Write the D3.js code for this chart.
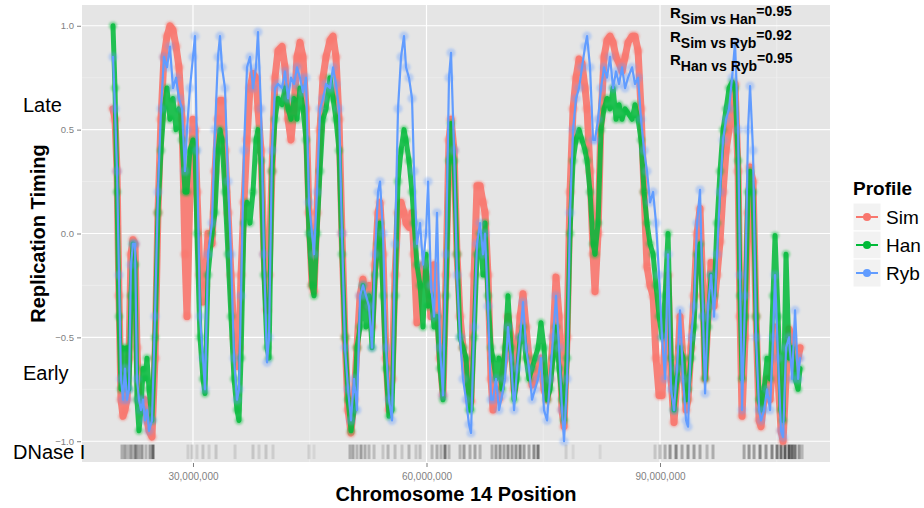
<!DOCTYPE html>
<html>
<head>
<meta charset="utf-8">
<script src="https://d3js.org/d3.v7.min.js"></script>
<style>
  body { margin: 0; background: #ffffff; }
  text { font-family: "Liberation Sans", Arial, Helvetica, sans-serif; }
</style>
</head>
<body>
<div id="canvas"></div>
<script>

// chromosome 14 positions, in Mb
var positions = [
  19.72, 19.98, 20.24, 20.49, 20.75, 21.01, 21.26, 21.52, 21.78, 22.03,
  22.29, 22.55, 22.80, 23.06, 23.32, 23.58, 23.83, 24.09, 24.35, 24.73,
  25.12, 25.50, 25.89, 26.27, 26.66, 27.04, 27.43, 27.82, 28.20, 28.59,
  28.97, 29.23, 29.61, 30.00, 30.26, 30.51, 30.90, 31.28, 31.54, 31.93,
  32.44, 32.83, 33.21, 33.47, 33.73, 34.11, 34.50, 34.88, 35.27, 35.65,
  35.91, 36.17, 36.55, 36.94, 37.32, 37.71, 38.09, 38.35, 38.74, 39.12,
  39.51, 39.77, 40.15, 40.54, 40.92, 41.44, 41.82, 42.21, 42.59, 42.98,
  43.36, 43.75, 44.13, 44.52, 44.90, 45.29, 45.55, 45.93, 46.32, 46.70,
  47.09, 47.60, 47.99, 48.37, 48.76, 49.14, 49.53, 49.92, 50.30, 50.69,
  51.07, 51.46, 51.84, 52.23, 52.61, 53.00, 53.39, 53.77, 54.03, 54.41,
  54.80, 55.18, 55.57, 55.96, 56.34, 56.73, 57.11, 57.37, 57.75, 58.14,
  58.40, 58.78, 59.17, 59.55, 59.94, 60.20, 60.58, 60.97, 61.35, 61.74,
  62.12, 62.51, 62.89, 63.15, 63.54, 63.92, 64.31, 64.69, 65.08, 65.46,
  65.72, 66.11, 66.49, 66.88, 67.26, 67.52, 67.90, 68.29, 68.55, 68.93,
  69.32, 69.70, 70.09, 70.47, 70.86, 71.25, 71.63, 72.02, 72.40, 72.79,
  73.17, 73.56, 73.94, 74.33, 74.71, 75.10, 75.49, 75.87, 76.26, 76.64,
  77.03, 77.41, 77.67, 78.06, 78.44, 78.83, 79.21, 79.60, 79.98, 80.37,
  80.63, 81.01, 81.40, 81.65, 82.04, 82.42, 82.81, 83.19, 83.58, 83.97,
  84.35, 84.74, 85.12, 85.51, 85.89, 86.41, 86.79, 87.18, 87.56, 87.95,
  88.33, 88.72, 89.11, 89.49, 89.88, 90.26, 90.65, 91.03, 91.42, 91.80,
  92.19, 92.57, 92.96, 93.35, 93.60, 93.99, 94.37, 94.76, 95.14, 95.53,
  95.79, 96.17, 96.56, 96.94, 97.33, 97.71, 98.10, 98.49, 98.87, 99.26,
  99.64, 100.03, 100.28, 100.54, 100.93, 101.31, 101.57, 101.95, 102.34, 102.73,
  102.98, 103.37, 103.75, 104.14, 104.52, 104.78, 105.17, 105.55, 105.81, 106.19,
  106.58, 106.97, 107.35, 107.74, 107.99
];

var simValues = [
  0.60, 0.55, 0.30, -0.30, -0.80, -0.88, -0.85, -0.80, -0.60, -0.10,
  -0.03, -0.05, -0.55, -0.80, -0.80, -0.85, -0.80, -0.90, -0.95, -0.98,
  -0.60, 0.10, 0.55, 0.85, 0.95, 1.00, 0.98, 0.90, 0.80, 0.55,
  -0.10, -0.40, 0.20, 0.55, 0.50, 0.20, -0.20, -0.33, -0.25, 0.00,
  -0.05, 0.30, 0.55, 0.64, 0.64, 0.40, 0.10, -0.20, -0.50, -0.64,
  -0.55, -0.20, 0.15, 0.45, 0.70, 0.77, 0.75, 0.60, 0.40, -0.10,
  -0.37, -0.20, 0.30, 0.75, 0.88, 0.90, 0.80, 0.55, 0.45, 0.60,
  0.85, 0.92, 0.85, 0.60, 0.10, -0.25, -0.28, 0.10, 0.50, 0.75,
  0.85, 0.93, 0.95, 0.85, 0.55, 0.00, -0.50, -0.85, -0.96, -0.80,
  -0.55, -0.30, -0.22, -0.35, -0.25, -0.45, -0.15, 0.10, 0.15, -0.10,
  -0.60, -0.85, -0.70, -0.20, 0.10, 0.15, 0.10, 0.05, 0.03, 0.10,
  -0.10, -0.43, -0.20, -0.15, -0.20, -0.25, -0.40, -0.15, -0.30, -0.60,
  -0.78, -0.20, 0.45, 0.55, 0.40, -0.10, -0.40, -0.55, -0.65, -0.80,
  -0.81, -0.20, 0.23, 0.23, 0.15, 0.10, -0.20, -0.70, -0.85, -0.75,
  -0.80, -0.70, -0.60, -0.40, -0.50, -0.75, -0.60, -0.40, -0.29, -0.45,
  -0.60, -0.73, -0.70, -0.65, -0.60, -0.75, -0.80, -0.70, -0.50, -0.21,
  -0.40, -0.85, -0.93, -0.50, 0.20, 0.60, 0.75, 0.84, 0.82, 0.70,
  0.60, 0.30, -0.10, -0.28, 0.00, 0.55, 0.85, 0.93, 0.95, 0.92,
  0.85, 0.82, 0.78, 0.85, 0.92, 0.95, 0.95, 0.88, 0.60, 0.20,
  -0.16, -0.25, -0.30, -0.60, -0.78, -0.78, -0.50, -0.20, -0.70, -0.91,
  -0.70, -0.40, -0.60, -0.85, -0.80, -0.55, -0.30, 0.00, 0.12, -0.30,
  -0.70, -0.40, -0.14, -0.35, -0.20, -0.04, 0.20, 0.40, 0.50, 0.60,
  0.72, 0.30, -0.40, -0.88, -0.50, 0.10, 0.32, 0.25, -0.40, -0.90,
  -0.93, -0.80, -0.70, -0.80, -0.60, -0.45, -0.70, -0.95, -1.00, -0.70,
  -0.46, -0.50, -0.65, -0.60, -0.55
];

var hanValues = [
  1.00, 0.70, 0.20, -0.40, -0.75, -0.55, -0.70, -0.55, -0.75, -0.30,
  -0.05, -0.15, -0.80, -0.95, -0.85, -0.65, -0.70, -0.60, -0.75, -0.90,
  -0.50, 0.10, 0.40, 0.60, 0.70, 0.55, 0.65, 0.50, 0.60, 0.45,
  0.20, 0.20, 0.40, 0.45, 0.40, 0.00, -0.50, -0.70, -0.77, -0.20,
  0.00, 0.10, 0.40, 0.50, 0.45, 0.20, -0.10, -0.40, -0.70, -0.85,
  -0.90, -0.60, 0.05, 0.15, 0.05, 0.20, 0.45, 0.50, 0.35, -0.20,
  -0.55, -0.60, 0.30, 0.55, 0.65, 0.62, 0.70, 0.60, 0.55, 0.65,
  0.55, 0.70, 0.60, 0.45, 0.00, -0.25, -0.30, 0.00, 0.30, 0.55,
  0.60, 0.75, 0.65, 0.55, 0.40, -0.10, -0.50, -0.80, -0.95, -0.85,
  -0.55, -0.45, -0.25, -0.45, -0.30, -0.55, -0.20, -0.05, 0.05, -0.30,
  -0.65, -0.88, -0.85, -0.30, 0.25, 0.40, 0.50, 0.45, 0.35, 0.20,
  0.05, -0.15, -0.25, -0.45, -0.10, -0.35, -0.30, -0.45, -0.40, -0.65,
  -0.80, -0.30, 0.35, 0.53, 0.35, -0.10, -0.50, -0.55, -0.60, -0.85,
  -0.85, -0.50, -0.10, 0.00, -0.20, 0.05, -0.30, -0.55, -0.60, -0.70,
  -0.60, -0.75, -0.55, -0.30, -0.55, -0.80, -0.70, -0.50, -0.45, -0.60,
  -0.70, -0.65, -0.60, -0.55, -0.43, -0.55, -0.80, -0.75, -0.60, -0.45,
  -0.65, -0.80, -0.90, -0.60, 0.00, 0.35, 0.45, 0.50, 0.45, 0.40,
  0.35, 0.20, -0.05, -0.10, 0.05, 0.50, 0.60, 0.65, 0.60, 0.70,
  0.55, 0.62, 0.55, 0.60, 0.58, 0.55, 0.62, 0.55, 0.45, 0.20,
  0.05, -0.05, -0.10, -0.25, -0.40, -0.50, -0.30, 0.00, -0.60, -0.85,
  -0.70, -0.55, -0.60, -0.80, -0.75, -0.60, -0.45, -0.10, -0.05, -0.40,
  -0.70, -0.45, -0.20, -0.30, 0.05, 0.30, 0.50, 0.60, 0.70, 0.73,
  0.70, 0.35, -0.30, -0.70, -0.40, 0.20, 0.30, 0.20, -0.40, -0.80,
  -0.85, -0.75, -0.60, -0.70, -0.30, -0.01, -0.40, -0.85, -0.90, -0.10,
  -0.60, -0.55, -0.70, -0.75, -0.65
];

var rybValues = [
  0.85, 0.60, 0.30, -0.20, -0.70, -0.80, -0.65, -0.80, -0.75, -0.15,
  -0.05, -0.05, -0.70, -0.80, -0.85, -0.80, -0.90, -0.85, -0.95, -0.90,
  -0.40, 0.20, 0.60, 0.85, 0.80, 0.90, 0.70, 0.75, 0.65, 0.60,
  0.30, 0.50, 0.70, 0.85, 0.95, 0.40, -0.40, -0.60, -0.75, -0.10,
  0.05, 0.50, 0.85, 0.95, 0.80, 0.70, 0.25, -0.10, -0.60, -0.80,
  -0.75, -0.30, 0.40, 0.80, 0.85, 0.70, 0.80, 0.97, 0.60, -0.10,
  -0.62, -0.50, 0.40, 0.70, 0.72, 0.70, 0.78, 0.65, 0.75, 0.72,
  0.80, 0.75, 0.68, 0.75, 0.15, 0.00, -0.10, 0.20, 0.60, 0.65,
  0.72, 0.70, 0.80, 0.72, 0.60, 0.00, -0.55, -0.75, -0.90, -0.70,
  -0.85, -0.30, -0.25, -0.30, -0.35, -0.55, -0.10, 0.20, 0.25, 0.00,
  -0.55, -0.80, -0.90, -0.05, 0.60, 0.85, 0.95, 0.80, 0.75, 0.65,
  0.30, -0.05, 0.05, -0.15, 0.00, 0.25, -0.25, -0.40, 0.10, -0.55,
  -0.78, -0.10, 0.75, 0.87, 0.40, -0.20, -0.50, -0.70, -0.80, -0.92,
  -0.96, -0.45, -0.05, 0.05, -0.10, 0.00, -0.35, -0.80, -0.80, -0.70,
  -0.85, -0.78, -0.70, -0.45, -0.60, -0.85, -0.65, -0.50, -0.33, -0.55,
  -0.65, -0.80, -0.75, -0.70, -0.60, -0.85, -0.90, -0.70, -0.50, -0.30,
  -0.55, -0.85, -1.00, -0.70, 0.10, 0.50, 0.65, 0.70, 0.80, 0.90,
  0.95, 0.80, 0.45, 0.45, 0.55, 0.70, 0.80, 0.75, 0.85, 0.70,
  0.78, 0.72, 0.80, 0.70, 0.75, 0.80, 0.72, 0.75, 0.55, 0.40,
  0.30, 0.15, 0.20, 0.05, -0.20, -0.50, -0.70, -0.10, -0.75, -0.85,
  -0.65, -0.37, -0.70, -0.90, -0.93, -0.50, -0.35, 0.05, 0.21, -0.40,
  -0.77, -0.35, -0.20, -0.40, -0.10, 0.20, 0.45, 0.55, 0.60, 0.75,
  0.92, 0.50, -0.20, -0.85, -0.30, 0.50, 0.71, 0.40, -0.50, -0.85,
  -0.90, -0.85, -0.75, -0.85, -0.50, -0.20, -0.60, -0.95, -0.98, -0.55,
  -0.50, -0.70, -0.37, -0.70, -0.60
];

// DNase I hypersensitivity track (Mb, darkness 0..1)
var dnasePositions = [
  20.88, 21.26, 21.65, 22.03, 22.42, 22.68, 23.06, 23.45, 23.96, 24.48, 24.86,
  29.36, 29.87, 30.51, 31.28, 32.06, 32.96, 35.40, 37.71, 38.48, 39.38, 40.28, 44.90, 45.55,
  50.17, 50.56, 51.07, 51.59, 52.10, 52.61, 53.26, 54.41, 55.06, 55.96, 56.85, 57.75, 58.65, 59.17,
  60.71, 61.35, 61.87, 62.38, 62.89, 64.31, 64.82, 65.59, 66.23, 66.88,
  68.42, 68.93, 69.45, 69.96, 70.47, 70.99, 71.50, 72.02, 72.53, 73.17, 73.81, 74.33,
  77.93, 78.83, 82.30,
  89.36, 90.00, 90.65, 91.29, 92.06, 92.83, 93.60, 94.37, 95.14, 96.04, 96.81,
  100.80, 101.44, 102.08, 102.85, 103.62, 104.39, 105.04, 105.55, 106.06, 106.58, 106.97, 107.35, 107.87, 108.25
];
var dnaseLevels = [
  0.35, 0.45, 0.30, 0.50, 0.35, 0.60, 0.40, 0.50, 0.30, 0.45, 0.80,
  0.15, 0.20, 0.15, 0.20, 0.15, 0.20, 0.15, 0.20, 0.15, 0.20, 0.15, 0.15, 0.10,
  0.35, 0.40, 0.30, 0.45, 0.35, 0.30, 0.25, 0.20, 0.30, 0.25, 0.20, 0.30, 0.20, 0.25,
  0.30, 0.35, 0.30, 0.70, 0.30, 0.30, 0.45, 0.35, 0.40, 0.30,
  0.35, 0.45, 0.50, 0.40, 0.55, 0.45, 0.50, 0.60, 0.45, 0.40, 0.55, 0.70,
  0.15, 0.10, 0.10,
  0.20, 0.30, 0.35, 0.50, 0.60, 0.40, 0.50, 0.45, 0.40, 0.30, 0.35,
  0.40, 0.50, 0.45, 0.60, 0.50, 0.60, 0.70, 0.75, 0.85, 0.90, 0.80, 0.70, 0.50, 0.30
];

var profileNames = ['Sim', 'Han', 'Ryb'];
var profileColors = ['#F8766D', '#00BA38', '#619CFF'];
var yTicks = [-1, -0.5, 0, 0.5, 1];
var yMinorTicks = [-0.75, -0.25, 0.25, 0.75];
var xTicks = [30, 60, 90];
var xMinorTicks = [45, 75, 105];
var corrPairs = ['Sim vs Han', 'Sim vs Ryb', 'Han vs Ryb'];
var corrValues = ['0.95', '0.92', '0.95'];


Canvas = function () {
  var self = this;
  var svg;
  var panel = { left: 82, right: 830, top: 5, bottom: 462 };

  var x = d3.scaleLinear().domain([15.74, 111.84]).range([panel.left, panel.right]);
  var y = d3.scaleLinear().domain([-1.1, 1.1]).range([panel.bottom, panel.top]);

  var createSvg = function() {
    svg = d3.select('#canvas').append('svg')
      .attr('width', 924)
      .attr('height', 508);

    var defs = svg.append('defs');
    defs.append('filter').attr('id', 'soft')
      .attr('x', '-20%').attr('y', '-20%').attr('width', '140%').attr('height', '140%')
      .append('feGaussianBlur').attr('stdDeviation', 1);
    defs.append('filter').attr('id', 'smear')
      .attr('x', '-5%').attr('y', '-20%').attr('width', '110%').attr('height', '140%')
      .append('feGaussianBlur').attr('stdDeviation', '0.7 0');
    defs.append('clipPath').attr('id', 'panelClip')
      .append('rect')
      .attr('x', panel.left).attr('y', panel.top)
      .attr('width', panel.right - panel.left)
      .attr('height', panel.bottom - panel.top);
  };
  createSvg();

  self.drawPanel = function() {
    svg.append('rect')
      .attr('x', panel.left)
      .attr('y', panel.top)
      .attr('width', panel.right - panel.left)
      .attr('height', panel.bottom - panel.top)
      .attr('fill', '#E5E5E5');

    // minor grid
    svg.selectAll('line.yminor').data(yMinorTicks)
      .enter().append('line').attr('class', 'yminor')
      .attr('x1', panel.left).attr('x2', panel.right)
      .attr('y1', function (d) { return y(d); })
      .attr('y2', function (d) { return y(d); })
      .attr('stroke', '#F2F2F2').attr('stroke-width', 0.6);
    svg.selectAll('line.xminor').data(xMinorTicks)
      .enter().append('line').attr('class', 'xminor')
      .attr('y1', panel.top).attr('y2', panel.bottom)
      .attr('x1', function (d) { return x(d); })
      .attr('x2', function (d) { return x(d); })
      .attr('stroke', '#F2F2F2').attr('stroke-width', 0.6);

    // major grid
    svg.selectAll('line.ymajor').data(yTicks)
      .enter().append('line').attr('class', 'ymajor')
      .attr('x1', panel.left).attr('x2', panel.right)
      .attr('y1', function (d) { return y(d); })
      .attr('y2', function (d) { return y(d); })
      .attr('stroke', '#FFFFFF').attr('stroke-width', 1.2);
    svg.selectAll('line.xmajor').data(xTicks)
      .enter().append('line').attr('class', 'xmajor')
      .attr('y1', panel.top).attr('y2', panel.bottom)
      .attr('x1', function (d) { return x(d); })
      .attr('x2', function (d) { return x(d); })
      .attr('stroke', '#FFFFFF').attr('stroke-width', 1.2);
  };// end of drawPanel

  self.drawAxes = function() {
    var yAxis = d3.axisLeft(y).tickValues(yTicks).tickSize(4).tickPadding(3)
      .tickFormat(d3.format('.1f'));
    var gy = svg.append('g')
      .attr('transform', 'translate(' + (panel.left - 1) + ',0)')
      .call(yAxis);
    gy.select('.domain').remove();
    gy.selectAll('line').attr('stroke', '#7F7F7F');
    gy.selectAll('text').attr('fill', '#7F7F7F').attr('font-size', 9.5)
      .text(function (d) { return d3.format('.1f')(d).replace('-', '\u2212'); });

    var xAxis = d3.axisBottom(x).tickValues(xTicks).tickSize(4).tickPadding(6)
      .tickFormat(function (d) { return d3.format(',')(d * 1000000); });
    var gx = svg.append('g')
      .attr('transform', 'translate(0,' + (panel.bottom + 1) + ')')
      .call(xAxis);
    gx.select('.domain').remove();
    gx.selectAll('line').attr('stroke', '#7F7F7F');
    gx.selectAll('text').attr('fill', '#7F7F7F').attr('font-size', 10);

    svg.append('text')
      .attr('x', (panel.left + panel.right) / 2)
      .attr('y', 501)
      .attr('text-anchor', 'middle')
      .attr('font-size', 20).attr('font-weight', 'bold')
      .text('Chromosome 14 Position');

    svg.append('text')
      .attr('transform', 'translate(45,' + (panel.top + panel.bottom) / 2 + ') rotate(-90)')
      .attr('text-anchor', 'middle')
      .attr('font-size', 20).attr('font-weight', 'bold')
      .text('Replication Timing');

    // side labels
    svg.append('text').attr('x', 23).attr('y', 112).attr('font-size', 20).text('Late');
    svg.append('text').attr('x', 23).attr('y', 380).attr('font-size', 20).text('Early');
    svg.append('text').attr('x', 13).attr('y', 459).attr('font-size', 20).text('DNase I');
  };// end of drawAxes

  self.drawDnase = function() {
    var track = dnasePositions.map(function (p, i) { return { pos: p, level: dnaseLevels[i] }; });
    svg.append('g').attr('filter', 'url(#smear)')
      .selectAll('rect').data(track)
      .enter().append('rect')
      .attr('x', function (d) { return x(d.pos) - 1.5; })
      .attr('width', 3)
      .attr('y', y(-1.016))
      .attr('height', y(-1.086) - y(-1.016))
      .attr('fill', '#000000')
      .attr('fill-opacity', function (d) { return d.level * 0.7; });
  };// end of drawDnase

  self.drawProfile = function(values, color, lineWidth, lineOpacity, r, pointOpacity) {
    var pts = positions.map(function (p, i) { return { pos: p, val: values[i] }; });
    var g = svg.append('g').attr('clip-path', 'url(#panelClip)');

    g.append('g').attr('filter', 'url(#soft)')
      .selectAll('circle').data(pts)
      .enter().append('circle')
      .attr('r', r)
      .attr('cx', function (d) { return x(d.pos); })
      .attr('cy', function (d) { return y(d.val); })
      .attr('fill', color)
      .attr('fill-opacity', pointOpacity);

    var line = d3.line()
      .x(function (d) { return x(d.pos); })
      .y(function (d) { return y(d.val); });

    g.append('path').datum(pts)
      .attr('d', line)
      .attr('fill', 'none')
      .attr('stroke', color)
      .attr('stroke-width', lineWidth)
      .attr('stroke-opacity', lineOpacity)
      .attr('stroke-linejoin', 'round')
      .attr('stroke-linecap', 'round');
  };// end of drawProfile

  self.drawCorr = function() {
    var rows = corrPairs.map(function (p, i) { return { pair: p, r: corrValues[i] }; });
    var t = svg.selectAll('text.corr').data(rows)
      .enter().append('text').attr('class', 'corr')
      .attr('x', 670)
      .attr('y', function (d, i) { return 18 + i * 23.5; })
      .attr('font-size', 15).attr('font-weight', 'bold');
    t.append('tspan').text('R');
    t.append('tspan').attr('dy', 6).attr('font-size', 14).text(function (d) { return d.pair; });
    t.append('tspan').attr('dy', -8).attr('font-size', 14).text(function (d) { return '=' + d.r; });
  };// end of drawCorr

  self.drawLegend = function() {
    var lg = svg.append('g').attr('transform', 'translate(853,0)');
    lg.append('text').attr('x', 0).attr('y', 195)
      .attr('font-size', 19).attr('font-weight', 'bold').text('Profile');

    var keys = lg.selectAll('g.key').data(profileNames)
      .enter().append('g').attr('class', 'key')
      .attr('transform', function (d, i) { return 'translate(0,' + (203 + i * 28) + ')'; });
    keys.append('rect')
      .attr('width', 28).attr('height', 28)
      .attr('fill', '#F2F2F2').attr('stroke', '#FFFFFF').attr('stroke-width', 1);
    keys.append('line')
      .attr('x1', 3).attr('x2', 25).attr('y1', 14).attr('y2', 14)
      .attr('stroke', function (d, i) { return profileColors[i]; })
      .attr('stroke-width', 2);
    keys.append('circle')
      .attr('cx', 14).attr('cy', 14).attr('r', 4)
      .attr('fill', function (d, i) { return profileColors[i]; });
    keys.append('text')
      .attr('x', 33).attr('y', 21)
      .attr('font-size', 19)
      .text(function (d) { return d; });
  };// end of drawLegend

}//end of the canvas function


var canvas = new Canvas();
canvas.drawPanel();
canvas.drawDnase();
canvas.drawProfile(simValues, profileColors[0], 7, 0.9, 4.6, 0.55);
canvas.drawProfile(hanValues, profileColors[1], 5, 0.85, 4.2, 0.45);
canvas.drawProfile(rybValues, profileColors[2], 2.2, 1, 4.6, 0.35);
canvas.drawAxes();
canvas.drawCorr();
canvas.drawLegend();

</script>
</body>
</html>
